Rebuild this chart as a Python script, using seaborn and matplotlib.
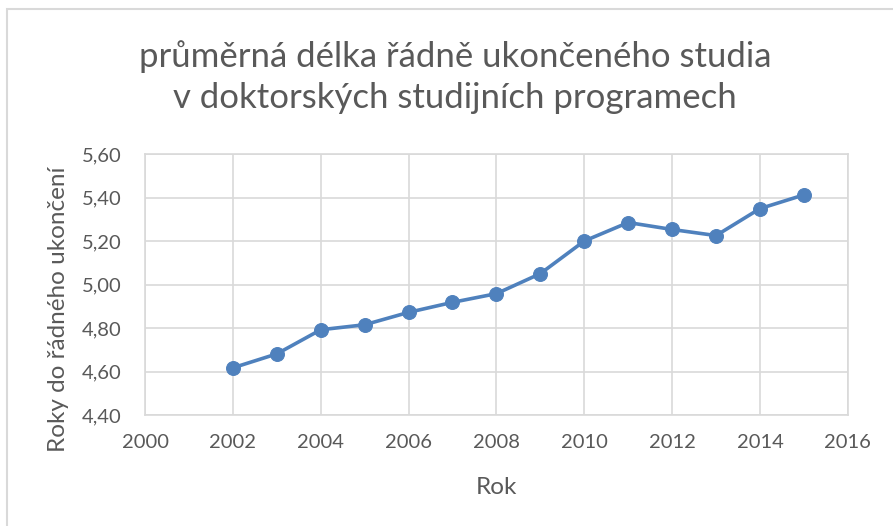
import matplotlib
matplotlib.use("Agg")
import matplotlib.pyplot as plt
import matplotlib.ticker as mticker
import numpy as np
import pandas as pd
import seaborn as sns

# data
years = [2002, 2003, 2004, 2005, 2006, 2007, 2008, 2009, 2010, 2011, 2012, 2013, 2014, 2015]
durations = [4.617, 4.681, 4.792, 4.815, 4.872, 4.918, 4.958, 5.05, 5.20, 5.285, 5.253, 5.225, 5.349, 5.412]

title = "průměrná délka řádně ukončeného studia\nv doktorských studijních programech"
x_label = "Rok"
y_label = "Roky do řádného ukončení"

df = pd.DataFrame({"rok": years, "delka": durations})

sns.set_theme(style="white")
plt.rcParams["font.family"] = ["Lato", "DejaVu Sans"]

text_color = "#595959"
grid_color = "#D9D9D9"
line_color = "#4F81BD"

fig = plt.figure(figsize=(8.93, 5.26), dpi=100)
ax = fig.add_axes([0.1624, 0.211, 0.787, 0.4962])

# chart area frame (only top and left edges visible)
fig.patches.append(plt.Rectangle((7 / 893, -0.05), 1.1, 1 - 9 / 526 + 0.05,
                                 transform=fig.transFigure, fill=False,
                                 edgecolor="#D9D9D9", linewidth=1.5))

sns.lineplot(data=df, x="rok", y="delka", ax=ax, color=line_color, linewidth=2.6,
             marker="o", markersize=10, markeredgecolor=line_color, zorder=3)

ax.set_xlim(2000, 2016)
ax.set_ylim(4.4, 5.6)
ax.xaxis.set_major_locator(mticker.MultipleLocator(2))
ax.yaxis.set_major_locator(mticker.MultipleLocator(0.2))
ax.yaxis.set_major_formatter(mticker.FuncFormatter(lambda v, p: f"{v:.2f}".replace(".", ",")))

ax.grid(True, color=grid_color, linewidth=1.2)
for s in ax.spines.values():
    s.set_color(grid_color)
    s.set_linewidth(1.2)

ax.tick_params(axis="both", colors=text_color, labelsize=14.5, length=0)
ax.tick_params(axis="x", pad=14)
ax.tick_params(axis="y", pad=17)
ax.set_xlabel(x_label, color=text_color, fontsize=17.5)
ax.set_ylabel(y_label, color=text_color, fontsize=17.5)
ax.xaxis.set_label_coords(0.5, (415 - 487) / 261, transform=ax.transAxes)
ax.yaxis.set_label_coords((58 - 145) / 703, (415 - 309) / 261, transform=ax.transAxes)
ax.xaxis.label.set_va("center")
ax.yaxis.label.set_va("center")

fig.text(455 / 893, 1 - 77 / 526, title, ha="center", va="center",
         color=text_color, fontsize=25, linespacing=1.35)

fig.savefig("out.png", dpi=100)
